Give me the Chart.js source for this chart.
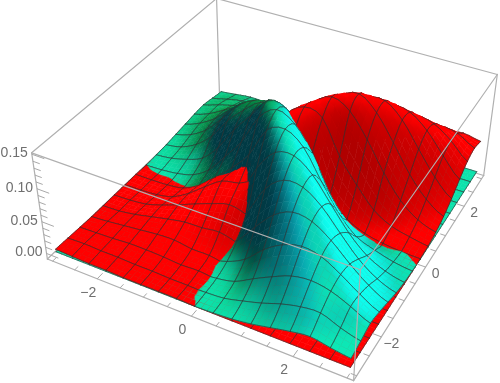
<!DOCTYPE html>
<html><head><meta charset="utf-8">
<style>html,body{margin:0;padding:0;background:#fff}canvas{display:block}</style>
<script src="https://cdn.jsdelivr.net/npm/chart.js@4"></script>
</head><body><canvas id="c" width="500" height="383"></canvas>
<script>
// surface heights at mesh nodes, in thousandths; rows run along x = -3 .. 3, columns along y = -3 .. 3
const RED_Z = [
[4,3,2,1,1,1,1,1,0,0,0,0,0,0,0,0,0],
[3,4,3,3,2,2,1,1,0,0,0,0,0,0,0,0,0],
[2,3,4,6,6,5,3,2,2,0,0,0,0,0,0,0,0],
[2,3,6,9,12,13,9,6,5,1,0,0,0,0,0,0,0],
[1,2,6,12,18,23,24,20,14,11,5,2,1,0,0,0,0],
[1,2,5,13,23,34,44,42,32,29,15,7,2,1,0,0,0],
[1,1,3,9,24,44,62,60,62,58,35,18,7,3,1,0,0],
[1,1,4,9,27,52,68,85,80,85,68,40,19,8,3,1,0],
[0,0,1,4,20,45,79,95,125,133,109,74,42,20,8,2,1],
[0,0,0,1,11,29,58,97,133,152,144,115,75,41,18,7,2],
[0,0,0,0,5,15,35,68,109,144,160,147,113,71,37,16,6],
[0,0,0,0,2,7,18,40,50,95,147,158,138,101,61,31,13],
[0,0,0,0,1,2,7,19,24,60,113,138,141,120,84,49,24],
[0,0,0,0,0,1,3,8,11,30,71,101,120,117,97,66,38],
[0,0,0,0,0,0,1,3,5,14,37,61,84,97,92,74,50],
[0,0,0,0,0,0,0,1,2,7,16,31,49,66,74,70,55],
[0,0,0,0,0,0,0,0,1,2,6,13,24,38,50,55,50]
];
const TEAL_Z = [
[0,0,0,0,0,0,0,0,0,1,2,4,6,8,9,6,3],
[0,0,0,0,0,0,0,0,1,4,7,12,16,17,17,12,6],
[0,0,0,0,0,0,1,1,4,11,20,28,32,31,24,17,9],
[0,0,0,0,0,1,2,5,11,22,42,54,55,45,31,17,8],
[0,0,0,0,1,3,7,20,28,48,75,83,75,55,32,16,6],
[0,0,0,1,3,8,19,42,58,85,100,100,83,54,28,12,4],
[0,0,1,1,3,10,30,66,90,115,120,105,75,42,20,7,2],
[0,0,1,3,7,20,50,95,135,146,122,95,57,28,11,4,1],
[0,1,3,10,24,50,100,140,155,142,107,67,35,15,5,1,0],
[1,3,9,24,55,95,132,150,142,111,73,39,18,7,2,1,0],
[3,10,24,49,83,117,136,132,107,73,41,19,7,2,1,0,0],
[7,18,38,67,97,116,117,90,55,35,19,8,3,1,0,0,0],
[13,28,50,75,93,97,83,50,22,12,6,3,1,0,0,0,0],
[19,35,54,70,75,67,49,24,9,5,2,1,0,0,0,0,0],
[23,37,49,54,50,38,24,13,3,2,1,0,0,0,0,0,0],
[18,26,37,35,28,18,10,5,2,1,0,0,0,0,0,0,0],
[14,18,23,19,13,7,3,1,0,0,0,0,0,0,0,0,0]
];
const X_NODES = [-3,-2.625,-2.25,-1.875,-1.5,-1.125,-0.75,-0.375,0,0.375,0.75,1.125,1.5,1.875,2.25,2.625,3];
const Y_NODES = X_NODES;
const X_MAJOR = [-2,0,2];
const X_MINOR = [-3,-2.5,-1.5,-1,-0.5,0.5,1,1.5,2.5,3];
const Y_MAJOR = [-2,0,2];
const Y_MINOR = [-3,-2.5,-1.5,-1,-0.5,0.5,1,1.5,2.5,3];
const Z_MAJOR = [0,0.05,0.10,0.15];
const Z_MINOR = [0.01,0.02,0.03,0.04,0.06,0.07,0.08,0.09,0.11,0.12,0.13,0.14];
const X_LABELS = ["\u22122","0","2"];
const Y_LABELS = ["\u22122","0","2"];
const Z_LABELS = ["0.00","0.05","0.10","0.15"];

// view box and camera calibration
const XR=3.12, ZMIN=-0.009, ZMAX=0.152, SUB=3;
const CORNERS=[[0,0,0,48,260],[1,0,0,353,381],[1,1,0,483,177],[0,1,0,220,92],
               [0,0,1,31,153],[1,0,1,361,268],[1,1,1,498,74],[0,1,1,216,0]];
function solveCamera(){
  const A=[],B=[];
  for(const [X,Y,Z,u,v] of CORNERS){
    A.push([X,Y,Z,1,0,0,0,0,-u*X,-u*Y,-u*Z]);B.push(u);
    A.push([0,0,0,0,X,Y,Z,1,-v*X,-v*Y,-v*Z]);B.push(v);
  }
  const n=11,M=[];
  for(let r=0;r<n;r++){M[r]=new Array(n+1).fill(0);
    for(let c=0;c<n;c++)for(let k=0;k<A.length;k++)M[r][c]+=A[k][r]*A[k][c];
    for(let k=0;k<A.length;k++)M[r][n]+=A[k][r]*B[k];}
  for(let c=0;c<n;c++){let p=c;for(let r=c+1;r<n;r++)if(Math.abs(M[r][c])>Math.abs(M[p][c]))p=r;
    [M[c],M[p]]=[M[p],M[c]];
    for(let r=0;r<n;r++)if(r!==c){const f=M[r][c]/M[c][c];for(let k=c;k<=n;k++)M[r][k]-=f*M[c][k];}}
  return M.map((row,i)=>row[n]/row[i]);
}
const CAM=solveCamera();
function proj(x,y,z){
  const X=(x+XR)/(2*XR),Y=(y+XR)/(2*XR),Z=(z-ZMIN)/(ZMAX-ZMIN);
  const w=CAM[8]*X+CAM[9]*Y+CAM[10]*Z+1;
  return {x:(CAM[0]*X+CAM[1]*Y+CAM[2]*Z+CAM[3])/w,y:(CAM[4]*X+CAM[5]*Y+CAM[6]*Z+CAM[7])/w};
}
// spline rendering of the mesh cells, the drawn counterpart of a line's tension
function cr(p0,p1,p2,p3,t){return 0.5*(2*p1+(p2-p0)*t+(2*p0-5*p1+4*p2-p3)*t*t+(3*p1-p0-3*p2+p3)*t*t*t);}
function smoothSheet(T){
  const C=T.length,N2=(C-1)*SUB+1,F=[];
  const at=(a,b)=>T[Math.max(0,Math.min(C-1,a))][Math.max(0,Math.min(C-1,b))];
  for(let i=0;i<N2;i++){F[i]=[];
    const a=Math.min(Math.floor(i/SUB),C-2),u=i/SUB-a;
    for(let j=0;j<N2;j++){
      const b=Math.min(Math.floor(j/SUB),C-2),v=j/SUB-b,row=[];
      for(let k=-1;k<=2;k++)row.push(cr(at(a+k,b-1),at(a+k,b),at(a+k,b+1),at(a+k,b+2),v));
      F[i][j]=cr(row[0],row[1],row[2],row[3],u);
    }}
  return F;
}
const FR=smoothSheet(RED_Z),FT=smoothSheet(TEAL_Z);
const N=FR.length,XF=[];
for(let i=0;i<N;i++){const a=Math.min(Math.floor(i/SUB),X_NODES.length-2);XF[i]=X_NODES[a]+(i/SUB-a)*(X_NODES[a+1]-X_NODES[a]);}
const cv=document.getElementById('c'),ctx=cv.getContext('2d');
const clamp=(v,a,b)=>Math.max(a,Math.min(b,v));
function normalAt(T,i,j){
  const i0=Math.max(i-1,0),i1=Math.min(i+1,N-1),j0=Math.max(j-1,0),j1=Math.min(j+1,N-1);
  const zx=(T[i1][j]-T[i0][j])/1000/(XF[i1]-XF[i0]);
  const zy=(T[i][j1]-T[i][j0])/1000/(XF[j1]-XF[j0]);
  const p=zx*14.86,q=zy*14.86,l=Math.sqrt(1+p*p+q*q);
  return [-p/l,-q/l,1/l];
}
function redShade(n){
  const L=-0.35*n[0]+0.7*n[1]+0.6*n[2];
  return [clamp(190+(L+0.39)*110,175,255),0,0];
}
function tealShade(n){
  let G=-114+58*n[0]-52*n[1]+340*n[2], B=-28+138*n[0]-98*n[1]+200*n[2];
  G=clamp(G,58,232);B=clamp(B,68,182);
  let R=clamp((G-60)*0.08,0,18);
  const S=0.75*n[0]+0.35*n[1]+0.55*n[2];
  let k=clamp((S-0.71)/0.24,0,1);k=k*k*(3-2*k);
  return [R+(15-R)*k,G+(255-G)*k,B+(240-B)*k];
}
const shadeOf=(T,i,j)=>(T===FR?redShade:tealShade)(normalAt(T,i,j));
const rgb=c=>`rgb(${c[0]|0},${c[1]|0},${c[2]|0})`;
function cellFill(T,i,j){
  const idx=[[i,j],[i+1,j],[i+1,j+1],[i,j+1]];
  const P=idx.map(([a,b])=>proj(XF[a],XF[b],T[a][b]/1000));
  const C=idx.map(([a,b])=>shadeOf(T,a,b));
  const cx=(P[0].x+P[1].x+P[2].x+P[3].x)/4,cy=(P[0].y+P[1].y+P[2].y+P[3].y)/4;
  const lum=c=>c[0]+c[1]+c[2];
  const ux=(P[1].x+P[2].x-P[0].x-P[3].x)/2,uy=(P[1].y+P[2].y-P[0].y-P[3].y)/2;
  const vx=(P[2].x+P[3].x-P[0].x-P[1].x)/2,vy=(P[2].y+P[3].y-P[0].y-P[1].y)/2;
  const du=(lum(C[1])+lum(C[2])-lum(C[0])-lum(C[3]))/2,dv=(lum(C[2])+lum(C[3])-lum(C[0])-lum(C[1]))/2;
  const uu=ux*ux+uy*uy||1,vv=vx*vx+vy*vy||1;
  let gx=du*ux/uu+dv*vx/vv,gy=du*uy/uu+dv*vy/vv;
  const gl=Math.hypot(gx,gy);
  if(gl<0.05){const m=[0,1,2].map(k=>(C[0][k]+C[1][k]+C[2][k]+C[3][k])/4);return rgb(m);}
  gx/=gl;gy/=gl;
  const s=P.map(p=>(p.x-cx)*gx+(p.y-cy)*gy);
  const s2=s.reduce((a,b)=>a+b*b,0)||1,smax=Math.max(...s.map(Math.abs))||1;
  const lo=[],hi=[];
  for(let k=0;k<3;k++){
    const m=(C[0][k]+C[1][k]+C[2][k]+C[3][k])/4;
    let sl=0;for(let q=0;q<4;q++)sl+=s[q]*C[q][k];sl/=s2;
    lo[k]=clamp(m-sl*smax,0,255);hi[k]=clamp(m+sl*smax,0,255);
  }
  const g=ctx.createLinearGradient(cx-gx*smax,cy-gy*smax,cx+gx*smax,cy+gy*smax);
  g.addColorStop(0,rgb(lo));g.addColorStop(1,rgb(hi));
  return g;
}
// where one sheet lies above the other; near-ties go by quadrant
function diff(U,V,i,j){
  const sq=XF[i]*XF[j];
  return U[i][j]-V[i][j]+(U===FR?1:-1)*(sq>0?0.05:(sq<0?-0.05:0.001));
}
const datasets=[]; // painted in order, reversed at the end
function polyDs(pts,fill){
  datasets.push({data:pts,showLine:true,fill:'shape',backgroundColor:fill,borderColor:fill,borderWidth:0.6,pointRadius:0,tension:0,clip:false});
}
const MESH='rgba(48,48,48,0.74)';
function lineDs(pts,color,w){
  datasets.push({data:pts,showLine:true,fill:false,borderColor:color,borderWidth:w,pointRadius:0,tension:0,clip:false,borderCapStyle:'round'});
}
const gapPoint=()=>({x:NaN,y:NaN});
const onMesh=(a,b,c,e)=>(a===c&&a%SUB===0)||(b===e&&b%SUB===0)||(a===c&&a===N-1)||(b===e&&b===N-1);
function addSheet(T,i,j,other){
  const idx=[[i,j],[i+1,j],[i+1,j+1],[i,j+1]];
  const pt=(a,b)=>proj(XF[a],XF[b],T[a][b]/1000);
  const fill=cellFill(T,i,j);
  const d=other?idx.map(([a,b])=>diff(T,other,a,b)):[1,1,1,1];
  const poly=[],mesh=[];
  for(let k=0;k<4;k++){
    const [a,b]=idx[k],[c,e]=idx[(k+1)%4];
    const d0=d[k],d1=d[(k+1)%4];
    const p0=pt(a,b),p1=pt(c,e);
    const m=onMesh(a,b,c,e);
    if(d0>0)poly.push(p0);
    if((d0>0)!==(d1>0)){
      const t=d0/(d0-d1);
      const pm=proj(XF[a]+t*(XF[c]-XF[a]),XF[b]+t*(XF[e]-XF[b]),(T[a][b]+t*(T[c][e]-T[a][b]))/1000);
      poly.push(pm);
      if(m){if(d0>0)mesh.push(p0,pm,gapPoint());else mesh.push(pm,p1,gapPoint());}
    }else if(d0>0&&m)mesh.push(p0,p1,gapPoint());
  }
  if(poly.length>2){const P=poly.slice();P.push(poly[0]);polyDs(P,fill);}
  if(mesh.length)lineDs(mesh,MESH,0.85);
}
// edges of the frame that lie behind the surface
const BOX='#b0b0b0';
const corner=(sx,sy,sz)=>proj(sx*XR,sy*XR,sz>0?ZMAX:ZMIN);
for(const [a,b] of [[[-1,1,-1],[-1,1,1]],[[-1,1,1],[1,1,1]],[[-1,1,1],[-1,-1,1]],
                    [[1,1,-1],[1,1,1]],[[-1,-1,-1],[-1,-1,1]],[[-1,1,-1],[1,1,-1]],[[-1,1,-1],[-1,-1,-1]]]){
  lineDs([corner(...a),corner(...b)],BOX,1.2);
}
// surface cells, far to near
for(let i=0;i<N-1;i++){
  for(let j=N-2;j>=0;j--){
    let rm=0,tm=0,pos=0;
    for(const [a,b] of [[i,j],[i+1,j],[i+1,j+1],[i,j+1]]){rm+=FR[a][b];tm+=FT[a][b];}
    const low=rm>=tm?FT:FR,high=low===FR?FT:FR;
    for(const [a,b] of [[i,j],[i+1,j],[i+1,j+1],[i,j+1]])if(diff(high,low,a,b)>0)pos++;
    const crossing=pos<4, band=i>=N-1-4*SUB||j<=4*SUB;
    if(crossing||band)addSheet(low,i,j,null);
    addSheet(high,i,j,low);
  }
}
// edges of the frame in front of the surface, with axes and ticks
for(const [a,b] of [[[-1,-1,1],[1,-1,1]],[[1,-1,1],[1,1,1]],[[1,-1,-1],[1,-1,1]],[[-1,-1,-1],[1,-1,-1]],[[1,-1,-1],[1,1,-1]]]){
  lineDs([corner(...a),corner(...b)],BOX,1.2);
}
const TICK='#a8a8a8';
function tickSet(list,fn,len){
  const pts=[];for(const v of list){pts.push(...fn(v,len),gapPoint());}
  lineDs(pts,TICK,1);
}
const xTick=(v,l)=>[proj(v,-XR,ZMIN),proj(v,-XR+l,ZMIN)];
const yTick=(v,l)=>[proj(XR,v,ZMIN),proj(XR-l,v,ZMIN)];
const zTick=(v,l)=>[proj(-XR,-XR,v),proj(-XR+l,-XR,v)];
tickSet(X_MAJOR,xTick,0.16);tickSet(X_MINOR,xTick,0.1);
tickSet(Y_MAJOR,yTick,0.16);tickSet(Y_MINOR,yTick,0.1);
tickSet(Z_MAJOR,zTick,0.26);tickSet(Z_MINOR,zTick,0.14);
datasets.reverse();

const axisText={id:'axisText',afterDraw(ch){
  const c=ch.ctx,sx=ch.scales.x,sy=ch.scales.y;
  c.save();c.font='14px "Liberation Sans"';c.fillStyle='#6f6f6f';c.textBaseline='middle';
  c.textAlign='center';
  X_MAJOR.forEach((v,k)=>{const p=proj(v,-XR,ZMIN);c.fillText(X_LABELS[k],sx.getPixelForValue(p.x)-9,sy.getPixelForValue(p.y)+14);});
  Y_MAJOR.forEach((v,k)=>{const p=proj(XR,v,ZMIN);c.fillText(Y_LABELS[k],sx.getPixelForValue(p.x)+10,sy.getPixelForValue(p.y)+7);});
  c.textAlign='right';
  Z_MAJOR.forEach((v,k)=>{const p=proj(-XR,-XR,v);c.fillText(Z_LABELS[k],sx.getPixelForValue(p.x)-4,sy.getPixelForValue(p.y)-1);});
  c.restore();
}};
new Chart(ctx,{type:'scatter',data:{datasets},plugins:[axisText],options:{
  responsive:false,animation:false,events:[],
  layout:{padding:0},
  plugins:{legend:{display:false},tooltip:{enabled:false},title:{display:false}},
  scales:{x:{type:'linear',min:0,max:500,display:false},y:{type:'linear',min:0,max:383,reverse:true,display:false}}
}});
</script></body></html>
